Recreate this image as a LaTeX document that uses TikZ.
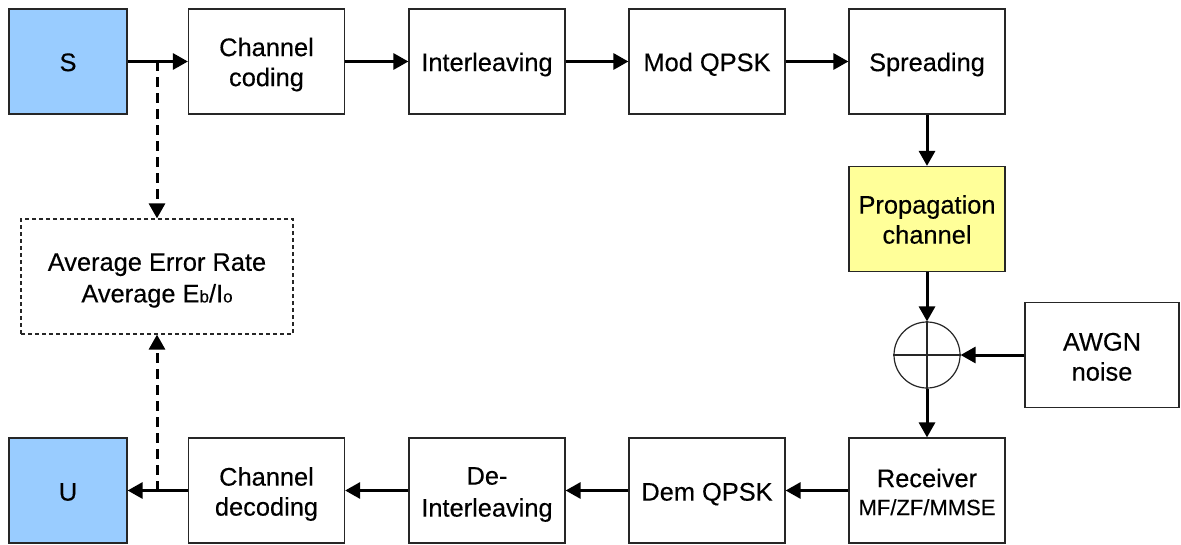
\documentclass[tikz,border=0pt]{standalone}
\usepackage{fontspec}
\setmainfont{Liberation Sans}[FakeBold=0.3]
\usetikzlibrary{arrows.meta}
\definecolor{srcblue}{HTML}{99CCFF}
\definecolor{chanyellow}{HTML}{FFFF99}
\begin{document}
\begin{tikzpicture}[x=0.5pt,y=-0.5pt]
\tikzset{
  blk/.style={draw=black!85, line width=0.6pt, minimum width=78pt, minimum height=52.5pt,
    align=center, inner sep=0pt, font=\fontsize{12.7}{15}\selectfont,
    text height=9.6pt, text depth=-0.5pt},
  % two-line captions: box reaches from the first cap line down to the last baseline
  twoline/.style={text height=24.6pt, text depth=-0.5pt},
  srcblk/.style={blk, fill=srcblue, minimum width=59pt},
  flow/.style={line width=1.5pt, -{Triangle[length=7.5pt,width=8pt]}},
  probe/.style={flow, dash pattern=on 5pt off 3pt},
}
\fill[white] (0,0) rectangle (1181,545);
\useasboundingbox (0,0) rectangle (1181,545);

% transmitter chain
\node[srcblk] (S) at (68,61.5) {S};
\node[blk, twoline] (cc) at (266.5,61.5) {Channel\\coding};
\node[blk] (il) at (487,61.5) {Interleaving};
\node[blk] (mod) at (707,61.5) {Mod QPSK};
\node[blk] (spr) at (927,61.5) {Spreading};

% channel and noise
\node[blk, twoline, fill=chanyellow] (prop) at (927,219) {Propagation\\channel};
\node[circle, draw=black!85, line width=0.6pt, minimum size=33pt, inner sep=0pt] (sum) at (927,355) {};
\draw[line width=0.6pt, black!85] (sum.north) -- (sum.south) (sum.west) -- (sum.east);
\node[blk, minimum width=77pt, text height=25.6pt, text depth=-1.5pt] (awgn) at (1102,355) {AWGN\\noise};

% receiver chain
\node[blk, text height=24.6pt, text depth=-1pt] (rx) at (927,490.5)
  {Receiver\\[-1pt]{\fontsize{11}{12}\selectfont MF/ZF/MMSE}};
\node[blk, text height=10.1pt, text depth=-1pt] (dem) at (707,490.5) {Dem QPSK};
\node[blk, text height=26.1pt, text depth=-0.5pt] (dil) at (487,490.5) {De-\\[1pt]Interleaving};
\node[blk, text height=25.1pt, text depth=-1pt] (cd) at (266.5,490.5) {Channel\\decoding};
\node[srcblk, text height=10.1pt, text depth=-1pt] (U) at (68,490.5) {U};

% measurement block
\node[draw=black!85, line width=0.6pt, dash pattern=on 2pt off 1.5pt, minimum width=136pt,
  minimum height=57.5pt, align=center, inner sep=0pt, font=\fontsize{12.7}{15.8}\selectfont,
  text height=25.9pt, text depth=-1pt]
  (avg) at (157,276.5)
  {Average Error Rate\\Average E{\fontsize{8.5}{8}\selectfont b}/I{\fontsize{8.5}{8}\selectfont o}};

% signal flow
\draw[flow] (S) -- (cc);
\draw[flow] (cc) -- (il);
\draw[flow] (il) -- (mod);
\draw[flow] (mod) -- (spr);
\draw[flow] (spr) -- (prop);
\draw[flow] (prop) -- (sum);
\draw[flow] (awgn) -- (sum);
\draw[flow] (sum) -- (rx);
\draw[flow] (rx) -- (dem);
\draw[flow] (dem) -- (dil);
\draw[flow] (dil) -- (cd);
\draw[flow] (cd) -- (U);

% taps to the error-rate block
\coordinate (tapS) at (157,61.5);
\coordinate (tapU) at (157,490.5);
\draw[probe] (tapS) -- (avg.north);
\draw[probe] (tapU) -- (avg.south);
\end{tikzpicture}
\end{document}
